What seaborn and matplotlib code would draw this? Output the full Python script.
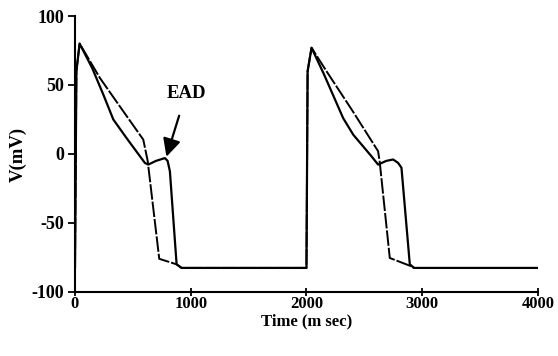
import numpy as np
import pandas as pd
import matplotlib
matplotlib.use("Agg")
import matplotlib.pyplot as plt
import seaborn as sns

# membrane potential traces (time in ms, V in mV)
ead_time = [0, 12, 40, 150, 245, 331, 450, 604, 633, 700, 777, 800, 820, 878, 921,
            2000, 2010, 2044, 2150, 2317, 2404, 2562, 2619, 2690, 2749, 2792, 2821, 2893, 2930, 4000]
ead_v = [-82.6, 60, 80, 62, 43, 25, 11, -6.5, -7.7, -5, -3, -5, -12.5, -80, -82.6,
         -82.6, 60, 77, 58, 26, 14, -1.7, -7.7, -5, -4, -6.5, -10, -80, -82.6, -82.6]

ctrl_time = [0, 12, 40, 216, 400, 590, 628, 728, 878, 921,
             2000, 2010, 2044, 2173, 2400, 2619, 2634, 2720, 2893, 2930]
ctrl_v = [-82.6, 60, 80, 55, 33, 10.4, -5, -76, -80, -82.6,
          -82.6, 60, 77, 60, 31, 2, -6.5, -75.4, -81, -82.6]

x_ticks = [0, 1000, 2000, 3000, 4000]
y_ticks = [-100, -50, 0, 50, 100]

sns.set_style("ticks")
plt.rcParams['font.family'] = ['Liberation Serif', 'DejaVu Serif']
plt.rcParams['font.weight'] = 'bold'
plt.rcParams['axes.unicode_minus'] = False
for key in ['text.color', 'axes.labelcolor', 'xtick.color', 'ytick.color', 'axes.edgecolor']:
    plt.rcParams[key] = 'black'

df_ead = pd.DataFrame({'Time': ead_time, 'V': ead_v})
df_ctrl = pd.DataFrame({'Time': ctrl_time, 'V': ctrl_v})

fig = plt.figure(figsize=(5.58, 3.56), dpi=100)
ax = fig.add_axes([0.1344, 0.18, 0.8296, 0.775])

sns.lineplot(data=df_ctrl, x='Time', y='V', ax=ax, color='black', lw=1.4,
             estimator=None, sort=False)
ax.lines[-1].set_dashes([8, 1])
sns.lineplot(data=df_ead, x='Time', y='V', ax=ax, color='black', lw=1.6,
             estimator=None, sort=False)

ax.set_xlim(0, 4000)
ax.set_ylim(-100, 100)
ax.set_xticks(x_ticks)
ax.set_yticks(y_ticks)
ax.set_xlabel('Time (m sec)', fontsize=12, fontweight='bold', labelpad=1)
ax.set_ylabel('V(mV)', fontsize=13.5, fontweight='bold', labelpad=3)
ax.tick_params(axis='x', direction='inout', length=6, width=1.3, labelsize=12, pad=0)
ax.tick_params(axis='y', direction='out', length=5, width=1.3, labelsize=13, pad=3)
for lab in ax.get_xticklabels() + ax.get_yticklabels():
    lab.set_fontweight('bold')

sns.despine(ax=ax)
ax.spines['left'].set_linewidth(1.5)
ax.spines['bottom'].set_linewidth(1.5)

ax.annotate('EAD', xy=(790, -2), xytext=(960, 44), fontsize=13.5, fontweight='bold',
            ha='center', va='center',
            arrowprops=dict(arrowstyle='-|>,head_length=0.8,head_width=0.4',
                            color='black', lw=1.6, shrinkA=8, shrinkB=0))

fig.savefig('out.png', dpi=100)
